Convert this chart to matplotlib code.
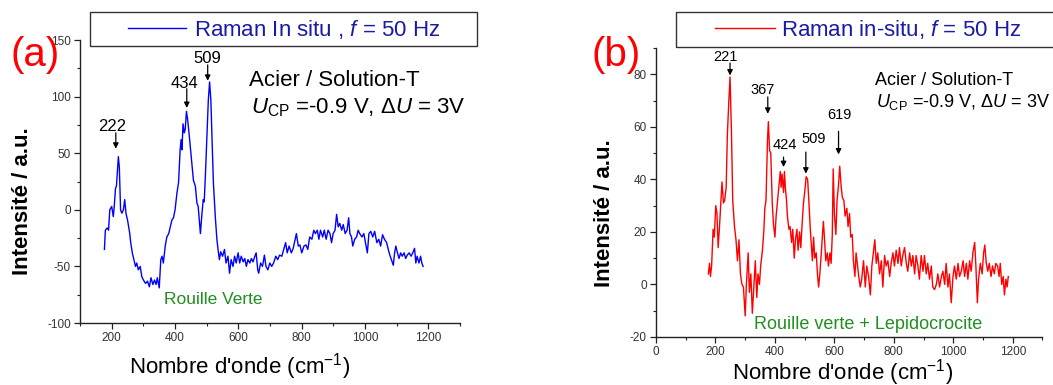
import matplotlib
matplotlib.use("Agg")
import matplotlib.pyplot as plt
from matplotlib.lines import Line2D
from matplotlib.patches import Rectangle
from matplotlib.ticker import MultipleLocator

plt.rcParams['font.family'] = ['Liberation Sans', 'DejaVu Sans']
plt.rcParams['mathtext.fontset'] = 'custom'
plt.rcParams['mathtext.rm'] = 'Liberation Sans'
plt.rcParams['mathtext.it'] = 'Liberation Sans:italic'
plt.rcParams['mathtext.bf'] = 'Liberation Sans:bold'
plt.rcParams['axes.unicode_minus'] = False

# ---- spectrum (a) : green rust ----
wn_a = [177, 180, 186, 190, 194, 200, 205, 208, 212, 215, 221, 224, 228, 232, 237, 241, 245,
        250, 257, 260, 265, 270, 275, 279, 284, 290, 295, 300, 307, 313, 319, 324, 330, 335,
        340, 344, 350, 355, 359, 363, 369, 374, 380, 385, 390, 395, 400, 406, 411, 416, 419,
        422, 425, 429, 432, 436, 440, 444, 450, 454, 458, 464, 469, 473, 480, 485, 489, 492,
        496, 501, 505, 509, 513, 517, 521, 527, 532, 537, 540, 544, 550, 556, 561, 567, 572,
        577, 583, 588, 593, 599, 604, 609, 615, 620, 625, 630, 636, 641, 646, 652, 656, 661,
        664, 670, 676, 682, 687, 693, 699, 705, 711, 718, 724, 730, 737, 743, 749, 754, 760,
        767, 773, 779, 783, 789, 794, 800, 807, 813, 819, 825, 832, 838, 843, 849, 854, 859,
        866, 871, 877, 883, 889, 894, 899, 905, 910, 915, 920, 926, 931, 937, 943, 948, 952,
        957, 961, 967, 973, 978, 983, 990, 996, 1001, 1007, 1012, 1018, 1024, 1030, 1037,
        1043, 1049, 1055, 1061, 1068, 1073, 1078, 1083, 1089, 1093, 1097, 1102, 1107, 1112,
        1117, 1123, 1128, 1133, 1139, 1145, 1152, 1156, 1160, 1164, 1170, 1175, 1179, 1183]
int_a = [-35, -18, -16, -18, 0, 3, -6, 3, 19, 21, 47, 38, 0, -3, 0, 9, -3,
         -9, -21, -29, -38, -44, -50, -47, -53, -50, -59, -62, -65, -63, -68, -60, -66, -62,
         -66, -60, -69, -44, -41, -47, -32, -24, -21, -15, -9, -7, 0, 15, 24, 53, 62,
         53, 76, 68, 71, 87, 79, 68, 50, 38, 26, 21, 6, 3, -21, -3, 9, 7,
         32, 68, 97, 113, 97, 62, 24, -6, -26, -38, -44, -37, -41, -35, -47, -41, -56,
         -44, -50, -41, -47, -38, -47, -41, -46, -43, -50, -44, -47, -43, -46, -41, -38, -53,
         -56, -47, -50, -40, -50, -53, -47, -50, -47, -41, -44, -40, -41, -35, -29, -38, -32,
         -38, -34, -26, -21, -32, -31, -38, -32, -31, -35, -24, -26, -18, -21, -18, -26, -18,
         -24, -18, -26, -18, -21, -29, -21, -18, -4, -15, -12, -18, -13, -21, -18, -7, -21,
         -24, -32, -26, -24, -18, -21, -24, -21, -29, -38, -21, -19, -24, -19, -29,
         -26, -32, -22, -26, -29, -35, -40, -44, -49, -38, -32, -38, -43, -38,
         -41, -38, -43, -40, -38, -41, -37, -34, -47, -41, -47, -41, -47, -50]

# ---- spectrum (b) : green rust + lepidocrocite ----
wn_b = [176, 180, 183, 187, 192, 196, 201, 205, 209, 213, 218, 222, 227, 231, 236, 240, 245,
        249, 254, 258, 264, 269, 274, 279, 284, 289, 294, 300, 304, 310, 314, 319, 324, 329,
        334, 339, 343, 348, 352, 358, 363, 366, 370, 375, 378, 382, 386, 391, 395, 400, 404,
        409, 413, 418, 421, 424, 429, 432, 435, 439, 442, 447, 451, 456, 460, 465, 469, 474,
        478, 483, 487, 492, 496, 500, 505, 510, 514, 519, 523, 526, 530, 534, 539, 543, 547,
        551, 556, 560, 563, 567, 571, 576, 580, 585, 589, 593, 596, 600, 605, 609, 614, 618,
        623, 627, 632, 636, 642, 646, 651, 655, 660, 664, 669, 673, 678, 682, 687, 692, 698,
        704, 709, 715, 721, 726, 732, 736, 741, 746, 752, 758, 763, 769, 774, 780, 786, 791,
        797, 802, 808, 814, 819, 825, 830, 836, 842, 847, 853, 859, 864, 870, 875, 881, 886,
        892, 898, 903, 909, 914, 920, 926, 931, 937, 943, 948, 954, 960, 965, 971, 976, 982,
        987, 993, 999, 1004, 1010, 1016, 1021, 1027, 1033, 1038, 1044, 1049, 1055, 1060, 1066,
        1072, 1076, 1081, 1085, 1091, 1097, 1102, 1106, 1111, 1116, 1121, 1127, 1132, 1138,
        1143, 1149, 1154, 1158, 1163, 1168, 1172, 1177, 1181, 1185]
int_b = [4, 8, 3, 7, 21, 18, 30, 27, 14, 21, 31, 39, 31, 32, 37, 57, 70,
         79, 57, 32, 22, 17, 9, 17, 4, 0, -1, -12, 0, 12, -3, 4, -11, -1,
         9, -5, 4, 0, 7, 13, 21, 29, 32, 55, 62, 51, 50, 31, 23, 18, 26,
         32, 37, 43, 37, 42, 35, 43, 37, 32, 26, 21, 22, 16, 21, 10, 17, 21,
         13, 20, 14, 24, 31, 35, 41, 40, 32, 21, 14, 9, 18, 10, 12, 4, -1,
         4, 12, 19, 24, 17, 9, 12, 7, 12, 8, 19, 44, 27, 19, 32, 38, 45,
         37, 33, 32, 26, 29, 22, 27, 18, 19, 9, 3, 12, 7, 3, -1, 2, 9,
         -1, 7, 3, -4, 7, 13, 17, 8, 12, 4, 9, -1, 11, 7, 9, 3, 8,
         12, 7, 13, 8, 14, 7, 11, 14, 8, 5, 12, 7, 11, 4, 11, 7, 2,
         11, 5, 11, 4, 8, 2, 7, -1, -2, 0, 4, -1, 3, 5, 0, 8, -1,
         4, -7, 3, 7, 2, 8, 3, 5, 9, 3, 8, 2, 9, 5, 12,
         16, 7, -7, 2, 8, 4, 12, 15, 8, 5, 8, 3, 7, 4,
         8, 7, 3, 8, 0, 3, -4, 2, -1, 3]

peaks_a = ['222', '434', '509']
peaks_b = ['221', '367', '424', '509', '619']

fig = plt.figure(figsize=(10.53, 3.85), dpi=100)
ax1 = fig.add_axes([0.076, 0.161, 0.361, 0.735])
ax2 = fig.add_axes([0.623, 0.125, 0.367, 0.750])

tick_col = '#333333'
for ax in (ax1, ax2):
    ax.spines['top'].set_visible(False)
    ax.spines['right'].set_visible(False)
    for s in ('left', 'bottom'):
        ax.spines[s].set_linewidth(1.0)
        ax.spines[s].set_color('#222222')
    ax.tick_params(which='major', direction='out', length=4.5, width=0.9,
                   labelsize=8.5, colors='#222222', labelcolor=tick_col, pad=2)
    ax.tick_params(which='minor', direction='out', length=2.5, width=0.8, colors='#222222')

# ---------- (a) ----------
ax1.plot(wn_a, int_a, color='#0000ff', lw=1.0)
ax1.set_xlim(100, 1300)
ax1.set_ylim(-100, 150)
ax1.set_xticks([200, 400, 600, 800, 1000, 1200])
ax1.xaxis.set_minor_locator(MultipleLocator(100))
ax1.yaxis.set_major_locator(MultipleLocator(50))
ax1.yaxis.set_minor_locator(MultipleLocator(25))
ax1.set_ylabel('Intensité / a.u.', fontsize=16, fontweight='bold')
ax1.yaxis.set_label_coords(-0.124, 0.43)
ax1.set_xlabel('Nombre d\'onde (cm$^{-1}$)', fontsize=16)
ax1.xaxis.set_label_coords(0.42, -0.10)

arr = dict(arrowstyle='-|>', color='black', lw=0.9, mutation_scale=8, shrinkA=0, shrinkB=0)
ax1.text(203, 70, peaks_a[0], fontsize=12, ha='center', va='baseline')
ax1.annotate('', xy=(213, 54), xytext=(213, 68), arrowprops=arr)
ax1.text(429, 108, peaks_a[1], fontsize=12, ha='center', va='baseline')
ax1.annotate('', xy=(437, 90), xytext=(437, 107), arrowprops=arr)
ax1.text(501, 130, peaks_a[2], fontsize=12, ha='center', va='baseline')
ax1.annotate('', xy=(503, 114), xytext=(503, 128), arrowprops=arr)

ax1.text(0.445, 0.837, 'Acier / Solution-T', transform=ax1.transAxes, fontsize=16, va='baseline')
ax1.text(0.45, 0.742, r'$U_{\mathrm{CP}}$ =-0.9 V, Δ$U$ = 3V', transform=ax1.transAxes,
         fontsize=16, va='baseline')
ax1.text(520, -79, 'Rouille Verte', color='#1f8f1f', fontsize=12.5, ha='center', va='center')

# ---------- (b) ----------
ax2.plot(wn_b, int_b, color='#ff0000', lw=1.0)
ax2.set_xlim(0, 1300)
ax2.set_ylim(-20, 90)
ax2.set_xticks([0, 200, 400, 600, 800, 1000, 1200])
ax2.xaxis.set_minor_locator(MultipleLocator(100))
ax2.set_yticks([-20, 0, 20, 40, 60, 80])
ax2.yaxis.set_minor_locator(MultipleLocator(10))
ax2.set_ylabel('Intensité / a.u.', fontsize=16, fontweight='bold')
ax2.yaxis.set_label_coords(-0.106, 0.43)
ax2.set_xlabel('Nombre d\'onde (cm$^{-1}$)', fontsize=16)
ax2.xaxis.set_label_coords(0.484, -0.071)

ax2.text(232, 85, peaks_b[0], fontsize=10.5, ha='center', va='baseline')
ax2.annotate('', xy=(249, 79.6), xytext=(249, 84.3), arrowprops=arr)
ax2.text(359, 72.4, peaks_b[1], fontsize=10.5, ha='center', va='baseline')
ax2.annotate('', xy=(376, 65), xytext=(376, 71.4), arrowprops=arr)
ax2.text(432, 51.7, peaks_b[2], fontsize=10.5, ha='center', va='baseline')
ax2.annotate('', xy=(429, 44.7), xytext=(429, 48.5), arrowprops=arr)
ax2.text(529, 53.9, peaks_b[3], fontsize=10.5, ha='center', va='baseline')
ax2.annotate('', xy=(504, 42.2), xytext=(504, 50.4), arrowprops=arr)
ax2.text(617, 62.9, peaks_b[4], fontsize=10.5, ha='center', va='baseline')
ax2.annotate('', xy=(614, 49.5), xytext=(614, 58.3), arrowprops=arr)

ax2.text(0.567, 0.872, 'Acier / Solution-T', transform=ax2.transAxes, fontsize=13, va='baseline')
ax2.text(0.57, 0.796, r'$U_{\mathrm{CP}}$ =-0.9 V, Δ$U$ = 3V', transform=ax2.transAxes,
         fontsize=13, va='baseline')
ax2.text(712, -15.2, 'Rouille verte + Lepidocrocite', color='#1f8f1f', fontsize=13,
         ha='center', va='center')

# ---------- legends (boxes drawn separately) ----------
fig.add_artist(Rectangle((0.0855, 0.8805), 0.3675, 0.0883, transform=fig.transFigure,
                         fill=False, edgecolor='#333333', lw=1.0))
fig.add_artist(Rectangle((0.642, 0.878), 0.37, 0.091, transform=fig.transFigure,
                         fill=False, edgecolor='#333333', lw=1.0))
h_a = Line2D([], [], color='#0000ff', lw=1.0)
h_b = Line2D([], [], color='#ff0000', lw=1.0)
fig.legend([h_a], [r'Raman In situ , $f$ = 50 Hz'], loc='center', bbox_to_anchor=(0.2697, 0.923),
           frameon=False, fontsize=16, handlelength=2.6, handletextpad=0.35,
           labelcolor='#1a1aa8', borderpad=0.2)
fig.legend([h_b], [r'Raman in-situ, $f$ = 50 Hz'], loc='center', bbox_to_anchor=(0.8243, 0.923),
           frameon=False, fontsize=16, handlelength=2.7, handletextpad=0.3,
           labelcolor='#1a1aa8', borderpad=0.2)

fig.text(0.0095, 0.857, '(a)', color='#ff0000', fontsize=29, ha='left', va='center')
fig.text(0.562, 0.857, '(b)', color='#ff0000', fontsize=29, ha='left', va='center')

fig.savefig('out.png', dpi=100)
